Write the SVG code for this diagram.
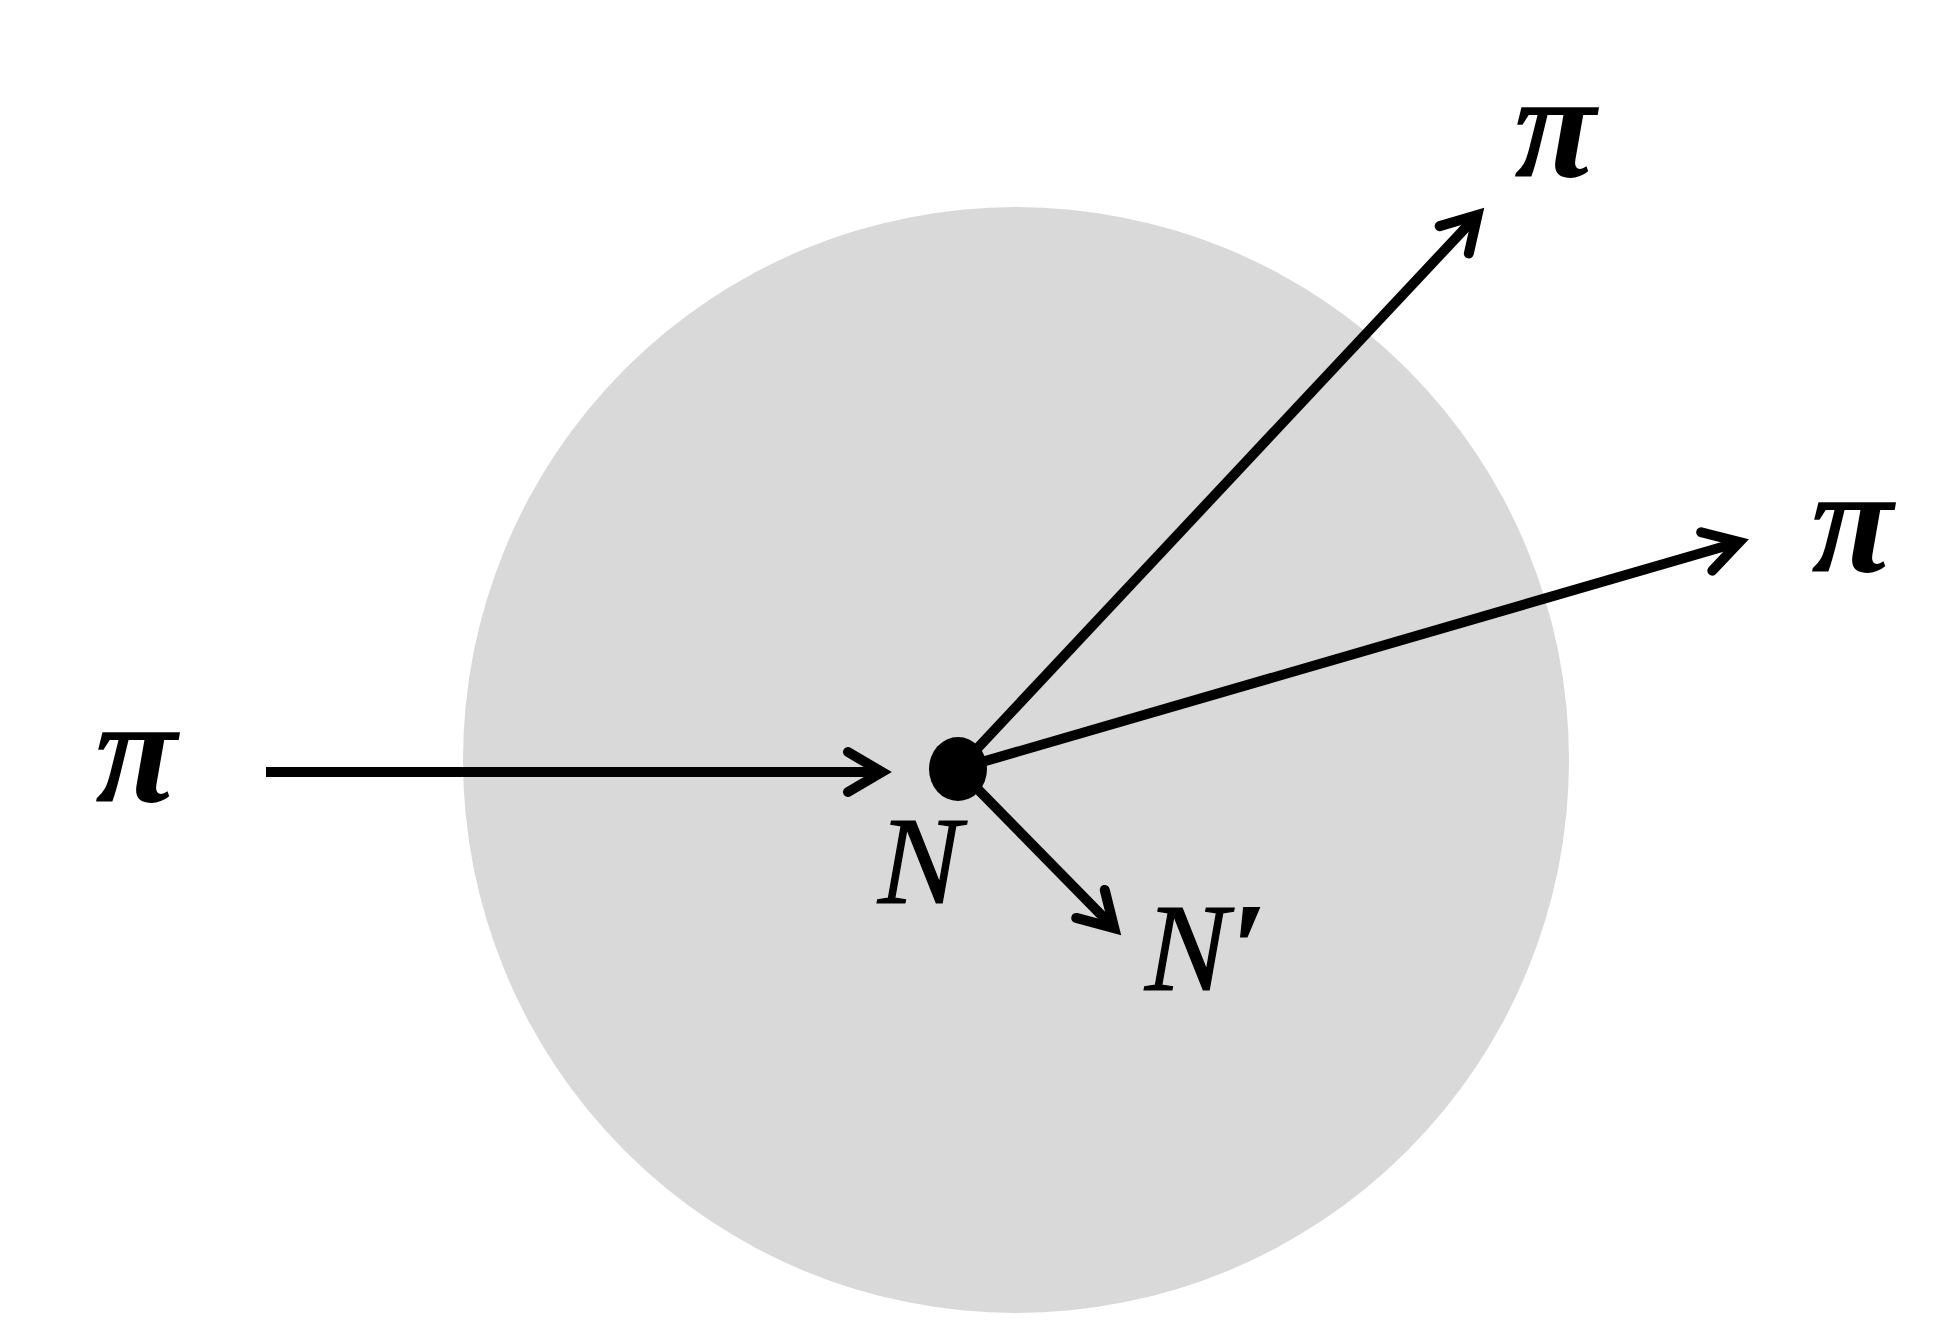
<svg xmlns="http://www.w3.org/2000/svg" width="1938" height="1343" viewBox="0 0 1938 1343">
<style>
.ln{stroke:#000;stroke-width:10;fill:none;stroke-linecap:butt}
.pi{font-family:"Liberation Serif","Times New Roman",serif;font-weight:bold;font-style:italic;font-size:150px;fill:#000}
.nl{font-family:"Liberation Serif","Times New Roman",serif;font-style:italic;font-size:125px;fill:#000;stroke:#000;stroke-width:1.2}
</style>
<defs>
<marker id="ah" markerUnits="userSpaceOnUse" markerWidth="80" markerHeight="80" refX="0" refY="0" orient="auto" viewBox="-50 -40 80 80" overflow="visible">
<path d="M-34,-20 L0,0 L-34,20" fill="none" stroke="#000" stroke-width="10" stroke-linejoin="miter" stroke-linecap="round"/>
</marker>
</defs>
<rect width="1938" height="1343" fill="#fff"/>
<g id="region"><circle cx="1016" cy="760" r="553" fill="#d9d9d9"/></g>
<g id="connectors">
<line class="ln" x1="266" y1="772" x2="882" y2="772" marker-end="url(#ah)"/>
<line class="ln" x1="958" y1="769" x2="1477.5" y2="215" marker-end="url(#ah)"/>
<line class="ln" x1="958" y1="769" x2="1739.4" y2="542" marker-end="url(#ah)"/>
<line class="ln" x1="958" y1="769" x2="1114.3" y2="928.2" marker-end="url(#ah)"/>
</g>
<g id="node-N"><ellipse cx="958" cy="769" rx="29" ry="32" fill="#000"/><text class="nl" x="878" y="903">N</text></g>
<g id="node-Nprime"><text class="nl" x="1145" y="990">N<tspan font-weight="bold" dx="2">′</tspan></text></g>
<g id="label-pi-in"><text class="pi" x="136" y="802" text-anchor="middle">π</text></g>
<g id="label-pi-up"><text class="pi" x="1555" y="177" text-anchor="middle">π</text></g>
<g id="label-pi-right"><text class="pi" x="1852" y="572" text-anchor="middle">π</text></g>
</svg>
